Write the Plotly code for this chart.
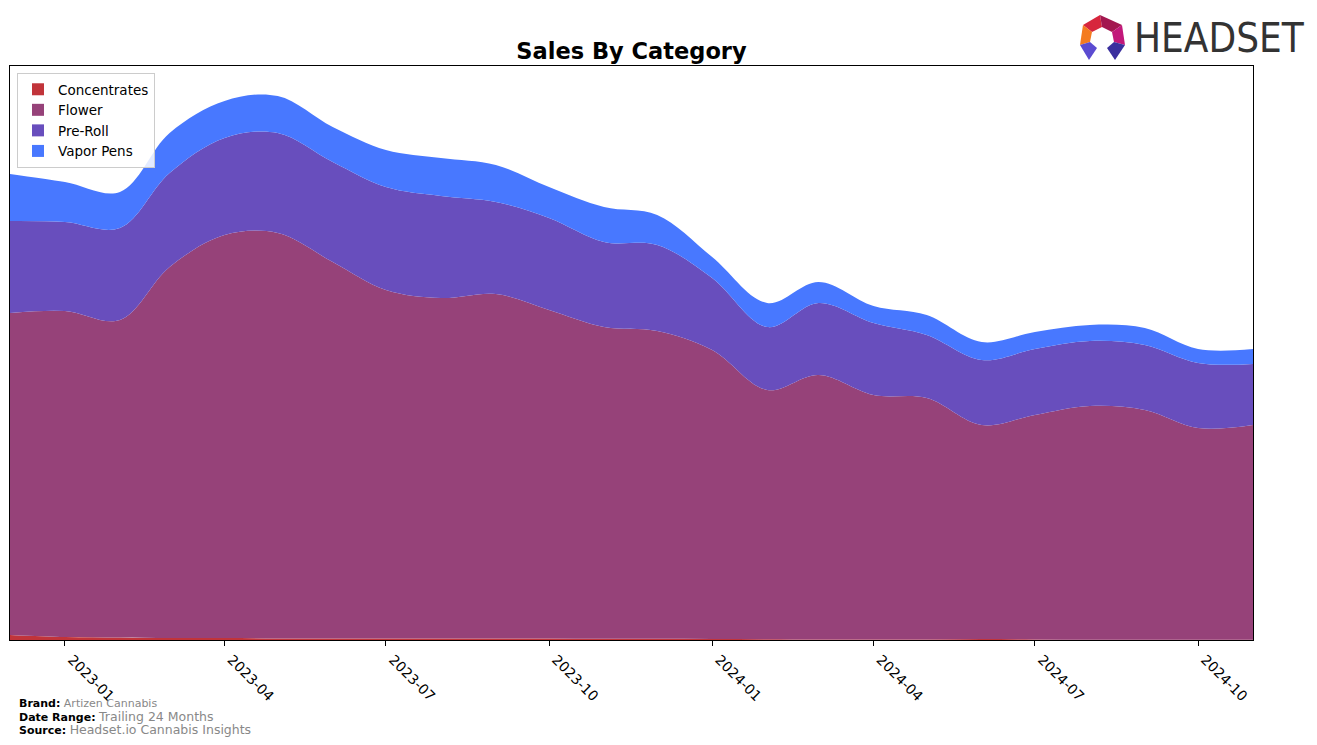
import plotly.graph_objects as go

months = ["2022-12-01", "2023-01-01", "2023-02-01", "2023-03-01", "2023-04-01", "2023-05-01",
          "2023-06-01", "2023-07-01", "2023-08-01", "2023-09-01", "2023-10-01", "2023-11-01",
          "2023-12-01", "2024-01-01", "2024-02-01", "2024-03-01", "2024-04-01", "2024-05-01",
          "2024-06-01", "2024-07-01", "2024-08-01", "2024-09-01", "2024-10-01", "2024-11-01"]

concentrates = [5, 3, 2.5, 2, 2, 1.5, 1.5, 1.5, 1.5, 1.5, 1.5, 1.2,
                1.2, 1, 0.8, 0.5, 0.5, 0.5, 1, 0.5, 0.3, 0.3, 0.3, 0.3]
flower = [322, 326, 317.5, 371, 403, 405.5, 376.5, 348.5, 340.5, 344.5, 328.5, 311.8,
          307.8, 289, 249.2, 264.5, 244.5, 241.5, 214, 224.5, 233.7, 229.7, 211.7, 214.7]
pre_roll = [92, 89, 92, 94, 97, 100, 100, 103, 102, 92, 92, 85,
            86, 72, 63, 72, 72, 63, 65, 66, 65, 65, 65, 61]
vapor_pens = [47, 40, 36, 40, 37, 37, 35, 37, 38, 37, 31, 35,
              30, 21, 24, 21, 17, 20, 18, 17, 16, 17, 14, 15]

series = [
    ("Concentrates", concentrates, "#C1343A"),
    ("Flower", flower, "#964279"),
    ("Pre-Roll", pre_roll, "#684EBD"),
    ("Vapor Pens", vapor_pens, "#4878FF"),
]

tick_vals = ["2023-01-01", "2023-04-01", "2023-07-01", "2023-10-01",
             "2024-01-01", "2024-04-01", "2024-07-01", "2024-10-01"]
tick_text = ["2023-01", "2023-04", "2023-07", "2023-10",
             "2024-01", "2024-04", "2024-07", "2024-10"]

FONT = "DejaVu Sans"

fig = go.Figure()
for name, vals, col in series:
    fig.add_trace(go.Scatter(
        x=months, y=vals, name=name, mode="lines", showlegend=False,
        stackgroup="one", line=dict(width=0, shape="spline", smoothing=1.0, color=col),
        fillcolor=col,
    ))
# legend patches (rectangles, like the reference)
for name, vals, col in series:
    fig.add_trace(go.Bar(x=[None], y=[None], name=name, marker=dict(color=col, line=dict(width=0)),
                         showlegend=True))

W, H = 1317, 745
L, R, T, B = 10, 1253, 66, 640

def px(x):
    return (x - L) / (R - L)

def py(y):
    return (B - y) / (B - T)

shapes = []
logo_parts = [
    ([(1083, 25), (1100, 15), (1102, 27), (1092, 32)], "#D7263D"),
    ([(1100, 15), (1122, 25), (1112, 32), (1102, 27)], "#A3174F"),
    ([(1083, 25), (1092, 32), (1090, 42), (1080, 45)], "#F47B20"),
    ([(1122, 25), (1125, 45), (1114, 42), (1112, 32)], "#C2187A"),
    ([(1080, 45), (1090, 42), (1097, 48), (1089, 60)], "#5B4BD1"),
    ([(1125, 45), (1114, 42), (1107, 48), (1115, 60)], "#3A2F9E"),
]
for pts, col in logo_parts:
    path = "M " + " L ".join(f"{px(a):.5f},{py(b):.5f}" for a, b in pts) + " Z"
    shapes.append(dict(type="path", xref="paper", yref="paper", path=path,
                       fillcolor=col, line=dict(width=0), layer="above"))

annotations = [
    dict(text="HEADSET", x=px(1132), y=py(38), xref="paper", yref="paper",
         xanchor="left", yanchor="middle", showarrow=False,
         font=dict(family="DejaVu Sans Condensed, DejaVu Sans", size=40, color="#333333")),
    dict(text="<b>Brand:</b> <span style='color:#888888'>Artizen Cannabis</span>",
         x=px(17), y=py(703), xref="paper", yref="paper", xanchor="left", yanchor="middle",
         showarrow=False, font=dict(family=FONT, size=11, color="black")),
    dict(text="<b>Date Range:</b> <span style='color:#888888;font-size:12.5px'>Trailing 24 Months</span>",
         x=px(17), y=py(716), xref="paper", yref="paper", xanchor="left", yanchor="middle",
         showarrow=False, font=dict(family=FONT, size=11, color="black")),
    dict(text="<b>Source:</b> <span style='color:#888888;font-size:12.5px'>Headset.io Cannabis Insights</span>",
         x=px(17), y=py(729), xref="paper", yref="paper", xanchor="left", yanchor="middle",
         showarrow=False, font=dict(family=FONT, size=11, color="black")),
]

fig.update_layout(
    width=W, height=H,
    margin=dict(l=L, r=W - R, t=T, b=H - B),
    paper_bgcolor="white", plot_bgcolor="white",
    title=dict(text="<b>Sales By Category</b>", x=(L + R) / 2 / W, xanchor="center",
               y=1 - 51 / H, yanchor="middle",
               font=dict(family=FONT, size=22.5, color="black")),
    font=dict(family=FONT, size=13, color="black"),
    showlegend=True,
    legend=dict(x=px(17), y=py(73), xanchor="left", yanchor="top",
                bgcolor="rgba(255,255,255,0.85)", bordercolor="#CCCCCC", borderwidth=1,
                traceorder="normal", font=dict(family=FONT, size=13.5),
                itemsizing="constant", tracegroupgap=0),
    xaxis=dict(range=["2022-12-01", "2024-11-01"], tickvals=tick_vals, ticktext=tick_text,
               tickangle=45, ticks="outside", ticklen=5, tickcolor="black",
               ticklabelshift=7, ticklabelstandoff=0,
               showgrid=False, zeroline=False, showline=True, linecolor="black",
               linewidth=1, mirror=True, tickfont=dict(family=FONT, size=14, color="black")),
    yaxis=dict(range=[0, 574], showticklabels=False, ticks="", showgrid=False,
               zeroline=False, showline=True, linecolor="black", linewidth=1, mirror=True),
    shapes=shapes,
    annotations=annotations,
)

fig.write_html("out.html")
